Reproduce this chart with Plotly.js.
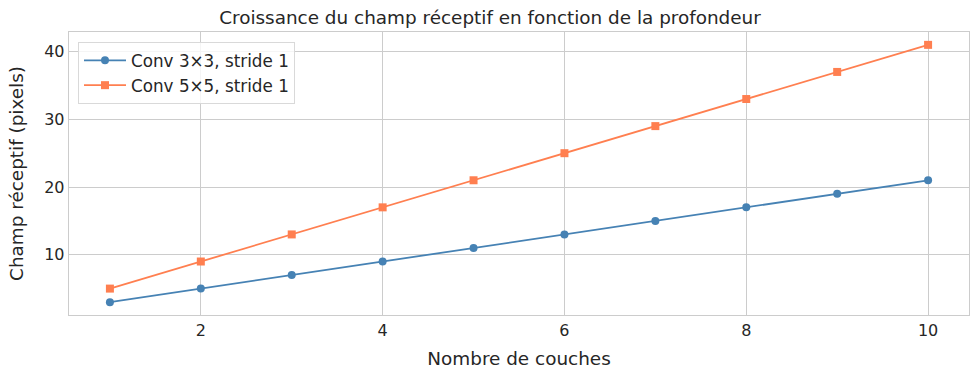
<!DOCTYPE html>
<html>
<head>
<meta charset="utf-8">
<script src="https://cdn.plot.ly/plotly-3.0.1.min.js"></script>
<style>html,body{margin:0;padding:0;background:#fff;}#chart{width:980px;height:380px;}</style>
</head>
<body>
<div id="chart"></div>
<script>
const layers = [1, 2, 3, 4, 5, 6, 7, 8, 9, 10];
const rf3 = [3, 5, 7, 9, 11, 13, 15, 17, 19, 21];
const rf5 = [5, 9, 13, 17, 21, 25, 29, 33, 37, 41];
const seriesNames = ['Conv 3×3, stride 1', 'Conv 5×5, stride 1'];
const xTicks = [2, 4, 6, 8, 10];
const yTicks = [10, 20, 30, 40];

const font = 'DejaVu Sans, sans-serif';
const traces = [
  {x: layers, y: rf3, name: seriesNames[0], type: 'scatter', mode: 'lines+markers',
   line: {color: '#4682B4', width: 1.8}, marker: {symbol: 'circle', size: 8, color: '#4682B4'}},
  {x: layers, y: rf5, name: seriesNames[1], type: 'scatter', mode: 'lines+markers',
   line: {color: '#FF7F50', width: 1.8}, marker: {symbol: 'square', size: 8, color: '#FF7F50'}}
];
const axisCommon = {
  showgrid: true, gridcolor: '#cccccc', gridwidth: 1, zeroline: false,
  showline: true, linecolor: '#cccccc', linewidth: 1.3, mirror: true,
  ticks: '', tickfont: {family: font, size: 16, color: '#262626'}
};
const layout = {
  width: 980, height: 380,
  margin: {l: 69, r: 11, t: 32, b: 65},
  paper_bgcolor: '#ffffff', plot_bgcolor: '#ffffff',
  font: {family: font, color: '#262626'},
  title: {text: 'Croissance du champ réceptif en fonction de la profondeur',
          font: {family: font, size: 18.4, color: '#262626'}, x: 0.5, xanchor: 'center', y: 0.97, yanchor: 'top'},
  xaxis: Object.assign({}, axisCommon, {range: [0.55, 10.45], tickvals: xTicks, ticktext: xTicks.map(String),
    title: {text: 'Nombre de couches', font: {family: font, size: 18.4, color: '#262626'}, standoff: 13}}),
  yaxis: Object.assign({}, axisCommon, {range: [1.1, 42.9], tickvals: yTicks, ticktext: yTicks.map(String),
    title: {text: 'Champ réceptif (pixels)', font: {family: font, size: 18.4, color: '#262626'}, standoff: 15}}),
  legend: {x: 0.01, y: 0.965, xanchor: 'left', yanchor: 'top', bgcolor: 'rgba(255,255,255,0.8)',
    bordercolor: '#d9d9d9', borderwidth: 1, font: {family: font, size: 16.8, color: '#262626'},
    tracegroupgap: 2, itemwidth: 42}
};
Plotly.newPlot('chart', traces, layout, {displayModeBar: false, staticPlot: true});
</script>
</body>
</html>
